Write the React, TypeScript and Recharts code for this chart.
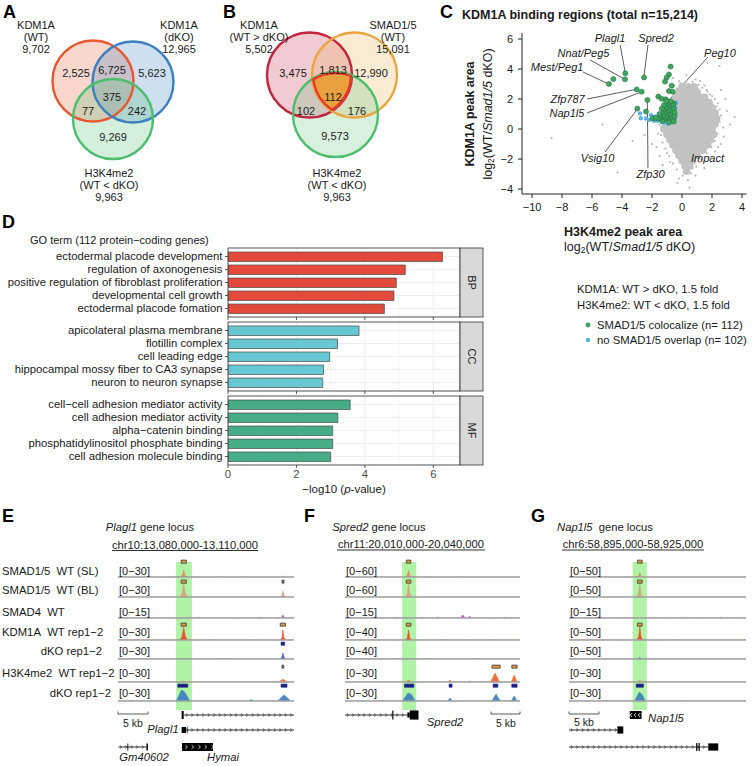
import React from 'react';
import {
  ScatterChart, Scatter, XAxis, YAxis, ReferenceLine, ReferenceArea,
  BarChart, Bar, CartesianGrid, AreaChart, Area, ComposedChart, Line,
} from 'recharts';

const FONT = '"Liberation Sans", Arial, Helvetica, sans-serif';
const M = '\u2212';
const M0 = { top: 0, right: 0, bottom: 0, left: 0 };
const INK = '#1a1a1a';

// ---------------- A / B : Venn data ----------------
const vennACounts = ['2,525', '6,725', '5,623', '375', '77', '242', '9,269'];
const vennASetNames = [['KDM1A', '(WT)'], ['KDM1A', '(dKO)'], ['H3K4me2', '(WT < dKO)']];
const vennASetSizes = ['9,702', '12,965', '9,963'];
const vennBCounts = ['3,475', '1,813', '12,990', '112', '102', '176', '9,573'];
const vennBSetNames = [['KDM1A', '(WT > dKO)'], ['SMAD1/5', '(WT)'], ['H3K4me2', '(WT < dKO)']];
const vennBSetSizes = ['5,502', '15,091', '9,963'];

// Venn layout (diagram geometry)
const VENN_A = {
  left: 0, width: 220,
  circles: [
    { x: 93, y: 81, r: 40.5, color: '#e8572f', op: 0.24 },
    { x: 133, y: 82, r: 40.5, color: '#3d7fc1', op: 0.25 },
    { x: 113, y: 119, r: 40, color: '#4cbe6d', op: 0.24 },
  ],
  countPos: [[76, 73], [112, 70], [152, 73], [112, 97], [88, 111], [137, 111], [113, 137]],
  labelPos: [[36, 25], [179, 25], [109, 173]],
};
const VENN_B = {
  left: 220, width: 200,
  circles: [
    { x: 309.5, y: 75, r: 42.5, color: '#c3243d', op: 0.24 },
    { x: 354.5, y: 75, r: 42.5, color: '#e9a53f', op: 0.22 },
    { x: 335.5, y: 114.5, r: 42.5, color: '#4cbe6d', op: 0.22 },
  ],
  countPos: [[293, 73], [333, 70], [371, 73], [333, 97], [306, 111], [357, 111], [335, 136]],
  labelPos: [[259, 25], [393, 25], [337, 173]],
};

// ---------------- C : scatter data ----------------
const cXTicks = [-10, -8, -6, -4, -2, 0, 2, 4];
const cYTicks = [-4, -2, 0, 2, 4, 6];
const grayCoreRows: [number, number[]][] = [
  [2.8, [0.0, 0.4, 0.8]],
  [2.45, [-0.2, 0.2, 0.6, 1.0]],
  [2.1, [-0.4, 0.0, 0.4, 0.8, 1.2, 1.5]],
  [1.75, [-0.6, -0.2, 0.2, 0.6, 1.0, 1.4, 1.8]],
  [1.4, [-0.4, 0.0, 0.4, 0.8, 1.2, 1.6, 2.0]],
  [1.05, [-0.6, -0.2, 0.2, 0.6, 1.0, 1.4, 1.8, 2.2]],
  [0.7, [-0.8, -0.4, 0.0, 0.4, 0.8, 1.2, 1.6, 2.0, 2.3]],
  [0.35, [-1.0, -0.6, -0.2, 0.2, 0.6, 1.0, 1.4, 1.8, 2.2]],
  [0.0, [-1.2, -0.8, -0.4, 0.0, 0.4, 0.8, 1.2, 1.6, 2.0]],
  [-0.35, [-1.0, -0.6, -0.2, 0.2, 0.6, 1.0, 1.4, 1.8, 2.1]],
  [-0.7, [-0.8, -0.4, 0.0, 0.4, 0.8, 1.2, 1.6, 1.9]],
  [-1.05, [-0.6, -0.2, 0.2, 0.6, 1.0, 1.4, 1.7]],
  [-1.4, [-0.4, 0.0, 0.4, 0.8, 1.2, 1.4]],
  [-1.75, [-0.2, 0.2, 0.6, 1.0]],
  [-2.1, [0.0, 0.4, 0.7]],
  [-2.45, [0.2, 0.5]],
  [-2.8, [0.3]],
];
const grayFringe: [number, number][] = [
  [-8.7, -0.6], [-5.3, 0.3], [-4.3, -2.9], [-0.3, -3.6], [0.5, -3.9], [1.7, 4.4], [2.5, 4.2],
  [3.0, 1.2], [2.8, -0.5], [2.6, 2.6], [-1.5, -1.8], [-1.3, -2.4], [0.9, -3.1], [1.5, -2.6],
  [2.2, -1.5], [-0.6, 3.4], [0.3, 3.6], [1.2, 3.2], [3.2, 0.3], [-2.0, -1.0], [1.9, -2.2],
  [-3.3, -0.8], [2.9, 2.0], [-1.6, -0.3], [-1.5, 0.3], [2.6, 0.9], [2.6, -1.0], [1.7, 2.5],
  [1.5, 2.9], [-0.5, 2.9], [0.9, 3.3], [-1.0, -1.6], [-0.8, -2.2], [0.3, -2.9], [1.2, -2.2],
  [2.4, 1.7], [-1.7, -1.2], [0.7, -2.6], [2.0, 2.2], [-0.2, 3.2], [3.5, 0.8], [-2.5, -0.4],
  [-1.35, 0.2], [-1.4, -0.4], [-1.3, -0.9], [-1.1, -1.3], [-0.85, -1.8], [-0.6, -2.3],
  [-0.35, -2.7], [0.05, -3.1], [0.6, -2.95], [0.95, -2.5], [1.3, -2.0], [1.65, -1.6],
  [1.95, -1.2], [2.2, -0.8], [2.35, -0.3], [2.5, 0.5], [2.5, 1.3], [2.3, 1.5], [2.2, 2.0],
  [1.85, 2.3], [1.65, 2.6], [1.35, 2.75], [1.1, 2.95], [0.7, 3.15], [0.3, 3.2], [-0.1, 3.05],
  [-0.35, 2.7], [2.75, 0.1], [2.4, -1.2], [1.8, -1.9], [-0.2, -3.3], [0.4, -3.4],
];
const bluePoints: [number, number][] = [
  [-2.8, 1.04], [-2.75, 0.72], [-2.4, 0.71], [-2.07, 0.93], [-1.91, 0.78], [-1.73, 0.82],
  [-1.53, 0.69], [-1.47, 1.0], [-0.76, 1.71], [-0.69, 1.49], [-0.62, 1.27], [-0.45, 1.4],
  [-0.45, 1.0], [-1.6, 0.55], [-1.85, 0.55], [-1.2, 0.45], [-0.4, 1.75], [-2.2, 0.6],
  [-0.95, 0.35], [-0.5, 0.7],
];
const greenPoints: [number, number][] = [
  [-4.87, 3.0], [-4.58, 3.33], [-3.8, 3.31], [-3.78, 3.71], [-2.53, 3.44], [-3.02, 2.64],
  [-2.69, 2.49], [-2.31, 1.93], [-2.98, 1.36], [-2.4, 1.16], [-1.96, 0.71],
  [-0.76, 4.16], [-0.87, 3.64], [-1.02, 3.44], [-1.13, 3.16], [-0.69, 2.89], [-0.87, 2.53],
  [-0.62, 2.49], [-1.58, 2.16], [-1.36, 2.02], [-1.09, 1.98], [-0.89, 1.82], [-0.55, 1.7],
  [-1.4, 0.75], [-1.3, 1.0], [-1.25, 0.6], [-1.2, 1.3], [-1.15, 0.85], [-1.1, 1.55],
  [-1.05, 0.65], [-1.0, 1.1], [-0.95, 0.8], [-0.95, 1.4], [-0.9, 1.7], [-0.9, 0.55],
  [-0.85, 1.2], [-0.8, 0.95], [-0.8, 0.65], [-0.75, 1.5], [-0.7, 1.25], [-0.7, 0.75],
  [-0.65, 1.0], [-0.6, 0.6], [-0.6, 1.6], [-0.55, 1.35], [-0.5, 0.85], [-0.5, 1.1],
  [-1.35, 1.35], [-1.2, 1.6], [-1.05, 1.85], [-0.75, 1.85], [-1.3, 0.5], [-0.85, 0.45],
  [-0.55, 0.5], [-1.5, 1.0], [-1.6, 0.7], [-1.75, 0.75],
];
const geneLabelsC: [string, number, number][] = [
  ['Plagl1', -4.8, 6.07], ['Spred2', -1.73, 6.07], ['Nnat/Peg5', -6.57, 5.1],
  ['Mest/Peg1', -8.33, 4.13], ['Peg10', 2.53, 5.1], ['Zfp787', -7.63, 2.0],
  ['Nap1l5', -7.67, 1.07], ['Vsig10', -5.63, -1.9], ['Zfp30', -2.1, -3.03], ['Impact', 1.7, -1.9],
];
const leaderLinesC: [number, number, number, number][] = [
  [-4.13, 5.6, -3.8, 3.85], [-2.27, 5.6, -2.53, 3.58], [-6.13, 4.6, -3.93, 3.38],
  [-6.6, 3.8, -5.0, 3.05], [1.73, 4.8, -0.8, 2.0], [-6.33, 2.0, -3.1, 2.64],
  [-6.33, 1.07, -2.75, 2.46], [-5.13, -1.53, -3.0, 1.3], [-2.27, -2.6, -2.31, 1.88],
  [1.0, -1.53, -0.93, 1.27],
];

// ---------------- D : GO data ----------------
const goBPTerms = ['ectodermal placode development', 'regulation of axonogenesis', 'positive regulation of fibroblast proliferation', 'developmental cell growth', 'ectodermal placode fomation'];
const goBPValues = [6.27, 5.18, 4.92, 4.85, 4.57];
const goCCTerms = ['apicolateral plasma membrane', 'flotillin complex', 'cell leading edge', 'hippocampal mossy fiber to CA3 synapse', 'neuron to neuron synapse'];
const goCCValues = [3.83, 3.2, 2.97, 2.79, 2.77];
const goMFTerms = [`cell${M}cell adhesion mediator activity`, 'cell adhesion mediator activity', `alpha${M}catenin binding`, 'phosphatidylinositol phosphate binding', 'cell adhesion molecule binding'];
const goMFValues = [3.57, 3.21, 3.06, 3.06, 3.0];
const goXTicks = [0, 2, 4, 6];

// ---------------- E/F/G : genome tracks (kb, signal) ----------------
const TRACK_NAMES = ['SMAD1/5\u00a0\u00a0WT (SL)', 'SMAD1/5\u00a0\u00a0WT (BL)', 'SMAD4\u00a0\u00a0WT', 'KDM1A\u00a0\u00a0WT rep1\u22122', 'dKO rep1\u22122', 'H3K4me2\u00a0\u00a0WT rep1\u22122', 'dKO rep1\u22122'];
const E_RANGES = [30, 30, 15, 30, 30, 30, 30];
const F_RANGES = [60, 60, 15, 40, 40, 30, 30];
const G_RANGES = [50, 50, 15, 50, 50, 30, 30];

const E_SL = [[0,0],[2.1,0],[2.2,1.2],[2.3,0],[6.4,0],[6.5,0.9],[6.6,0],[10.7,0],[11.0,5],[11.2,15.6],[11.4,5],[11.7,0],[17.5,0],[17.6,1.5],[17.7,0],[21.8,0],[21.9,1.1],[22,0],[27.9,0],[28.1,2.8],[28.3,0],[30,0]];
const E_BL = [[0,0],[4.5,0],[4.6,0.8],[4.7,0],[10.6,0],[10.95,9],[11.2,29],[11.45,9],[11.8,0],[15.3,0],[15.4,0.8],[15.5,0],[27.7,0],[27.95,4],[28.1,12.9],[28.3,4],[28.5,0],[30,0]];
const E_S4 = [[0,0],[1.5,0],[1.6,0.8],[1.7,0],[5.2,0],[5.3,1.0],[5.4,0],[9,0],[9.1,0.7],[9.2,0],[13.8,0],[13.9,1.2],[14,0],[19.5,0],[19.6,0.9],[19.7,0],[24,0],[24.1,1.1],[24.2,0],[27.8,0],[28.1,3.2],[28.4,0],[30,0]];
const E_KW = [[0,0],[3.3,0],[3.4,1.5],[3.5,0],[10.5,0],[10.9,7],[11.2,27.9],[11.5,7],[11.9,0],[16,0],[16.1,1.2],[16.2,0],[22.5,0],[22.6,1.3],[22.7,0],[27.7,0],[27.95,5],[28.1,21.4],[28.3,5],[28.6,0],[30,0]];
const E_KD = [[0,0],[3,0],[3.1,1],[3.2,0],[11.1,0],[11.2,1.8],[11.3,0],[18,0],[18.1,1],[18.2,0],[27.7,0],[27.95,4],[28.1,12.9],[28.3,4],[28.5,0],[30,0]];
const E_HW = [[0,0],[5,0],[5.1,1],[5.2,0],[10.8,0],[11.2,2],[11.6,0],[20,0],[20.1,1],[20.2,0],[27.4,0],[27.8,3.5],[28.1,5.8],[28.5,3],[28.9,0],[30,0]];
const E_HD = [[0,0],[2,0],[2.1,1.2],[2.2,0],[9.9,0],[10.3,9],[10.8,23.6],[11.3,20],[11.8,10],[12.2,0],[22.4,0],[22.7,3.5],[23,0],[27.2,0],[27.7,6],[28.3,12.9],[28.8,8],[29.4,0],[30,0]];

const F_SL = [[0,0],[3,0],[3.1,2],[3.2,0],[7.5,0],[7.6,1.5],[7.7,0],[10.45,0],[10.7,9],[10.9,28.7],[11.1,9],[11.35,0],[19.7,0],[19.8,2],[19.9,0],[26,0],[26.1,1.5],[26.2,0],[30,0]];
const F_BL = [[0,0],[7,0],[7.1,1.5],[7.2,0],[10.4,0],[10.7,16],[10.9,58],[11.1,16],[11.4,0],[16,0],[16.1,1.5],[16.2,0],[30,0]];
const F_S4 = [[0,0],[0.9,0],[1,1],[1.1,0],[3.4,0],[3.5,1.2],[3.6,0],[6,0],[6.1,0.9],[6.2,0],[8.5,0],[8.6,1.1],[8.7,0],[13,0],[13.1,1],[13.2,0],[15.8,0],[15.9,1.4],[16,0],[19.8,0],[20.2,3.2],[20.6,0],[21.2,0],[21.4,2.2],[21.6,0],[24.5,0],[24.6,1],[24.7,0],[27.3,0],[27.4,1.1],[27.5,0],[30,0]];
const F_KW = [[0,0],[4,0],[4.1,1.5],[4.2,0],[10.4,0],[10.7,7],[10.9,28.6],[11.1,7],[11.4,0],[16.5,0],[16.6,1.8],[16.7,0],[20.8,0],[20.9,2],[21,0],[25.3,0],[25.4,1.5],[25.5,0],[30,0]];
const F_KD = [[0,0],[2.5,0],[2.6,1],[2.7,0],[9,0],[9.1,0.9],[9.2,0],[14.5,0],[14.6,1],[14.7,0],[23,0],[23.1,1],[23.2,0],[30,0]];
const F_HW = [[0,0],[3.5,0],[3.6,1.2],[3.7,0],[10.5,0],[10.9,4.3],[11.3,0],[17.7,0],[18,4.3],[18.3,0],[21.2,0],[21.4,2.5],[21.6,0],[24.9,0],[25.3,8],[25.7,19.3],[26.1,10],[26.5,0],[28.5,0],[29,15],[29.5,0],[30,0]];
const F_HD = [[0,0],[2,0],[2.1,1],[2.2,0],[9.8,0],[10.3,8],[10.8,17.1],[11.4,14],[12,0],[17.6,0],[18,6.4],[18.4,0],[19.5,0],[19.6,1.5],[19.7,0],[25.2,0],[25.6,9],[25.9,15],[26.3,6],[26.7,0],[28.5,0],[29,10.7],[29.5,0],[30,0]];

const G_SL = [[0,0],[4,0],[4.1,1.2],[4.2,0],[11.6,0],[11.85,5],[12,16.8],[12.15,5],[12.4,0],[20,0],[20.1,1],[20.2,0],[30,0]];
const G_BL = [[0,0],[6,0],[6.1,1],[6.2,0],[11.55,0],[11.8,14],[12,49],[12.2,14],[12.45,0],[24,0],[24.1,1],[24.2,0],[30,0]];
const G_S4 = [[0,0],[0.5,0],[0.6,1],[0.7,0],[2.8,0],[2.9,1.1],[3,0],[5.5,0],[5.6,0.9],[5.7,0],[8.2,0],[8.3,1],[8.4,0],[13.7,0],[13.8,1],[13.9,0],[17,0],[17.1,0.9],[17.2,0],[19.5,0],[19.6,1.1],[19.7,0],[22.5,0],[22.6,1],[22.7,0],[25.6,0],[25.7,1.2],[25.8,0],[28.7,0],[28.8,1],[28.9,0],[30,0]];
const G_KW = [[0,0],[5,0],[5.1,1.5],[5.2,0],[11.5,0],[11.8,12],[12,47.5],[12.2,12],[12.5,0],[18,0],[18.1,1.5],[18.2,0],[30,0]];
const G_KD = [[0,0],[11.7,0],[12,5.4],[12.3,0],[30,0]];
const G_HW = [[0,0],[11.6,0],[12,3.2],[12.4,0],[30,0]];
const G_HD = [[0,0],[11.1,0],[11.5,9],[11.9,19.3],[12.4,14],[12.9,0],[20,0],[20.1,1],[20.2,0],[30,0]];

// peak calls (kb start, kb end, kind)
const E_CALLS = [[[10.75, 11.65, 'o']], [[10.75, 11.65, 'o'], [27.95, 28.3, 'g']], [], [[10.75, 11.65, 'o'], [27.65, 28.55, 'o']], [[27.8, 28.4, 'n']], [[27.95, 28.25, 'g']], [[10.2, 11.9, 'n'], [27.8, 28.8, 'n']]];
const F_CALLS = [[[10.5, 11.3, 'o']], [[10.5, 11.3, 'o']], [], [[10.5, 11.3, 'o']], [], [[25.2, 26.6, 'o'], [28.6, 29.5, 'o']], [[10.2, 11.8, 'n'], [17.85, 18.35, 'n'], [25.4, 26.2, 'n'], [28.6, 29.5, 'n']]];
const G_CALLS = [[[11.6, 12.4, 'o']], [[11.6, 12.4, 'o']], [], [[11.6, 12.4, 'o']], [], [], [[11.4, 12.6, 'n']]];

// gene models (kb)
const E_GENES = [
  { y: 715, introns: [[11.2, 30]], exons: [[10.85, 11.2, 1.0, '#000']] },
  { y: 730, introns: [[11.6, 30]], exons: [[10.85, 11.6, 0.75, '#000'], [11.85, 11.95, 0.9, '#000']] },
  { y: 747, introns: [[0.1, 4.9]], exons: [[1.6, 1.75, 0.9, '#000'], [4.85, 5.1, 0.9, '#000'], [10.9, 16.2, 1.0, 'url(#chevW)']] },
];
const F_GENES = [
  { y: 715, introns: [[0, 10.7]], exons: [[8.1, 8.3, 1.1, '#000'], [10.7, 11.1, 0.65, '#000'], [11.1, 12.6, 1.15, '#000']] },
];
const G_GENES = [
  { y: 715, introns: [], exons: [[10.3, 12.3, 1.0, 'url(#chevWL)']] },
  { y: 730, introns: [[0, 8.2]], exons: [[8.2, 9.2, 0.9, '#000']] },
  { y: 747, introns: [[0, 23.6]], exons: [[21.55, 21.75, 1.0, '#000'], [21.95, 22.15, 1.0, '#000'], [23.6, 25.3, 0.9, '#000']] },
];

// ---------------- styling / layout ----------------
const TRACK_COLORS = ['#e28d55', '#d9a17a', '#a650c9', '#f04d22', '#3d52c4', '#f26a32', '#3f82bf'];
const CALL_FILL: any = { o: '#dc9a48', n: '#1d1f86', g: '#8c8c8c' };
const TRACK_BASE = [577, 597, 618, 640, 659, 682, 701];
const TRACK_LABEL_Y = [571, 590, 612, 632, 651, 673, 693];
const FRAME = [{ k: 0, v: 0 }, { k: 30, v: 0 }];

const fmt = (v: number) => (v < 0 ? M + Math.abs(v) : String(v));

function Venn({ cfg, counts }: any) {
  const { left, width, circles, countPos } = cfg;
  const countData = counts.map((t: string, i: number) => ({ x: countPos[i][0], y: countPos[i][1], t }));
  return (
    <div style={{ position: 'absolute', left, top: 0 }}>
      <ScatterChart width={width} height={210} margin={M0}>
        <XAxis type="number" dataKey="x" domain={[left, left + width]} hide />
        <YAxis type="number" dataKey="y" domain={[0, 210]} reversed hide />
        <Scatter data={circles} isAnimationActive={false}
          shape={(p: any) => <circle cx={p.cx} cy={p.cy} r={p.payload.r} fill={p.payload.color} fillOpacity={p.payload.op} />} />
        <Scatter data={circles} isAnimationActive={false}
          shape={(p: any) => <circle cx={p.cx} cy={p.cy} r={p.payload.r} fill="none" stroke={p.payload.color} strokeWidth={2.4} />} />
        {cfg.triple && (
          <Scatter data={[circles[2]]} isAnimationActive={false}
            shape={(p: any) => {
              const dx = p.cx - p.payload.x;
              const dy = p.cy - p.payload.y;
              const ids = circles.map((_: any, i: number) => `vclip${left}_${i}`);
              return (
                <g>
                  <defs>
                    {circles.map((s: any, i: number) => (
                      <clipPath id={ids[i]} key={i}><circle cx={s.x + dx} cy={s.y + dy} r={s.r} /></clipPath>
                    ))}
                  </defs>
                  <g clipPath={`url(#${ids[0]})`}><g clipPath={`url(#${ids[1]})`}><g clipPath={`url(#${ids[2]})`}>
                    <circle cx={p.cx} cy={p.cy} r={p.payload.r + 4} fill="#e9a13e" />
                    {circles.map((s: any, i: number) => (
                      <circle key={i} cx={s.x + dx} cy={s.y + dy} r={s.r} fill="none" stroke="#e8312b" strokeWidth={4.4} />
                    ))}
                  </g></g></g>
                </g>
              );
            }} />
        )}
        <Scatter data={countData} isAnimationActive={false}
          shape={(p: any) => <text x={p.cx} y={p.cy} textAnchor="middle" dominantBaseline="central" fontSize={11} fill={INK}>{p.payload.t}</text>} />
      </ScatterChart>
    </div>
  );
}

function ScatterC() {
  const core = grayCoreRows.flatMap(([y, xs]) => xs.map((x) => ({ x, y })));
  const fringe = grayFringe.map(([x, y]) => ({ x, y }));
  const blue = bluePoints.map(([x, y]) => ({ x, y }));
  const green = greenPoints.map(([x, y]) => ({ x, y }));
  const labels = geneLabelsC.map(([name, x, y]) => ({ name, x, y }));
  const axisTick = { fontSize: 11, fill: INK };
  return (
    <div style={{ position: 'absolute', left: 490, top: 0 }}>
      <ScatterChart width={264} height={224} margin={{ top: 33, right: 7.5, bottom: 0, left: 2 }}>
        <XAxis type="number" dataKey="x" domain={[-10.67, 4.3]} ticks={cXTicks} allowDataOverflow height={30}
          tickSize={4} tickMargin={5} tickFormatter={fmt} stroke="#222" tick={axisTick} interval={0} />
        <YAxis type="number" dataKey="y" domain={[-4.33, 6.4]} ticks={cYTicks} allowDataOverflow width={30}
          tickSize={4} tickMargin={5} tickFormatter={fmt} stroke="#222" tick={axisTick} interval={0} />
        <Scatter data={core} isAnimationActive={false} shape={(p: any) => <circle cx={p.cx} cy={p.cy} r={3.9} fill="#c2c2c2" />} />
        <Scatter data={fringe} isAnimationActive={false} shape={(p: any) => <circle cx={p.cx} cy={p.cy} r={1.1} fill="#b8b8b8" />} />
        <Scatter data={blue} isAnimationActive={false} shape={(p: any) => <circle cx={p.cx} cy={p.cy} r={2.2} fill="#56b4e9" />} />
        <Scatter data={green} isAnimationActive={false} shape={(p: any) => <circle cx={p.cx} cy={p.cy} r={2.5} fill="#3fa562" stroke="#24713d" strokeWidth={0.6} />} />
        {leaderLinesC.map((s, i) => (
          <ReferenceLine key={i} segment={[{ x: s[0], y: s[1] }, { x: s[2], y: s[3] }]} stroke="#333" strokeWidth={0.8} ifOverflow="visible" />
        ))}
        <Scatter data={labels} isAnimationActive={false}
          shape={(p: any) => <text x={p.cx} y={p.cy} textAnchor="middle" dominantBaseline="central" fontSize={11} fontStyle="italic" fill={INK}>{p.payload.name}</text>} />
      </ScatterChart>
    </div>
  );
}

function GoPanel({ terms, values, fill, top, last }: any) {
  const data = terms.map((term: string, i: number) => ({ term, v: values[i] }));
  const xh = last ? 22 : 4;
  return (
    <div style={{ position: 'absolute', left: 0, top }}>
      <BarChart layout="vertical" width={460} height={69 + xh} data={data} margin={M0}>
        <CartesianGrid horizontal={false} verticalValues={[1, 3, 5]} stroke="#f1f1f1" strokeWidth={0.6} />
        <CartesianGrid stroke="#e3e3e3" strokeWidth={0.6} />
        <XAxis type="number" domain={[0, 6.78]} ticks={goXTicks} allowDataOverflow height={xh} tickSize={3} tickMargin={2}
          axisLine={false} tickLine={{ stroke: '#333', strokeWidth: 0.8 }} tick={{ fontSize: 11.3, fill: '#4d4d4d' }}
          tickFormatter={last ? undefined : () => ''} interval={0} />
        <YAxis type="category" dataKey="term" width={228} interval={0} tickSize={3} tickMargin={2.5} axisLine={false}
          tickLine={{ stroke: '#333', strokeWidth: 0.8 }} padding={{ top: 2, bottom: 2 }}
          tick={(p: any) => <text x={p.x} y={p.y} dy="0.35em" textAnchor="end" fontSize={11.3} fill={INK}>{p.payload.value}</text>} />
        <Bar dataKey="v" fill={fill} stroke="#4a4a4a" strokeWidth={0.7} barSize={9.5} isAnimationActive={false} />
      </BarChart>
    </div>
  );
}

function Track({ left, top, width, data, range, color, calls }: any) {
  const chartData = data.map(([k, v]: number[]) => ({ k, v }));
  return (
    <div style={{ position: 'absolute', left, top }}>
      <AreaChart width={width} height={20} data={chartData} margin={{ top: 0, right: 0, bottom: 1, left: 0 }}>
        <XAxis type="number" dataKey="k" domain={[0, 30]} hide allowDataOverflow />
        <YAxis type="number" domain={[0, range * 1.35]} hide allowDataOverflow />
        <Area type="linear" dataKey="v" stroke={color} strokeWidth={0.5} fill={color} fillOpacity={0.95}
          dot={false} activeDot={false} isAnimationActive={false} />
        <ReferenceLine y={0} stroke="#a0a0a0" strokeWidth={1.6} ifOverflow="visible" />
        {calls.map((c: any, i: number) => (
          <ReferenceArea key={i} x1={c[0]} x2={c[1]} y1={range * 0.98} y2={range * 1.2} fill={CALL_FILL[c[2]]}
            fillOpacity={1} stroke={c[2] === 'n' ? '#1d1f86' : '#2a2a2a'} strokeWidth={0.7} ifOverflow="visible" />
        ))}
      </AreaChart>
    </div>
  );
}

function GeneRow({ left, width, gene }: any) {
  return (
    <div style={{ position: 'absolute', left, top: gene.y - 6 }}>
      <ComposedChart width={width} height={12} data={FRAME} margin={M0}>
        <XAxis type="number" dataKey="k" domain={[0, 30]} hide allowDataOverflow />
        <YAxis type="number" domain={[-1.5, 1.5]} hide allowDataOverflow />
        <Line dataKey="v" stroke="none" dot={false} activeDot={false} isAnimationActive={false} />
        {gene.introns.map((t: number[], i: number) => (
          <ReferenceArea key={'i' + i} x1={t[0]} x2={t[1]} y1={-0.6} y2={0.6} fill="url(#chev)" fillOpacity={1} stroke="none" ifOverflow="visible" />
        ))}
        {gene.exons.map((e: any, i: number) => (
          <ReferenceArea key={'e' + i} x1={e[0]} x2={e[1]} y1={-e[2]} y2={e[2]} fill={e[3]} fillOpacity={1} stroke="none" ifOverflow="visible" />
        ))}
      </ComposedChart>
    </div>
  );
}

function GenomePanel({ left, width, tracks, ranges, calls, highlight, genes }: any) {
  return (
    <>
      <div style={{ position: 'absolute', left, top: 562 }}>
        <ComposedChart width={width} height={148} data={FRAME} margin={M0}>
          <XAxis type="number" dataKey="k" domain={[0, 30]} hide allowDataOverflow />
          <YAxis type="number" domain={[0, 1]} hide allowDataOverflow />
          <Line dataKey="v" stroke="none" dot={false} activeDot={false} isAnimationActive={false} />
          <ReferenceArea x1={highlight[0]} x2={highlight[1]} y1={0} y2={1} fill="#b0f3a6" fillOpacity={1} stroke="none" ifOverflow="visible" />
        </ComposedChart>
      </div>
      {tracks.map((d: any, i: number) => (
        <Track key={i} left={left} top={TRACK_BASE[i] - 19} width={width} data={d} range={ranges[i]} color={TRACK_COLORS[i]} calls={calls[i]} />
      ))}
      {genes.map((g: any, i: number) => <GeneRow key={i} left={left} width={width} gene={g} />)}
    </>
  );
}

function Log2Label({ x, y, rotate, anchor }: any) {
  const tr = rotate ? `translate(${x},${y}) rotate(-90)` : `translate(${x},${y})`;
  return (
    <text transform={tr} textAnchor={anchor} dominantBaseline="central" fontSize={12.5} fill={INK}>
      log<tspan fontSize={8.5} dy={3}>2</tspan><tspan dy={-3}>(WT/</tspan><tspan fontStyle="italic">Smad1/5</tspan> dKO)
    </text>
  );
}

function Overlay() {
  const c = { textAnchor: 'middle' as const, dominantBaseline: 'central' as const };
  const vennText = (cfg: any, names: string[][], sizes: string[]) =>
    cfg.labelPos.map((pos: number[], i: number) => (
      <g key={i}>
        <text x={pos[0]} y={pos[1]} {...c} fontSize={11} fill={INK}>{names[i][0]}</text>
        <text x={pos[0]} y={pos[1] + 12} {...c} fontSize={11} fill={INK}>{names[i][1]}</text>
        <text x={pos[0]} y={pos[1] + 24} {...c} fontSize={11} fill={INK}>{sizes[i]}</text>
      </g>
    ));
  const panelX = [118, 345, 569];
  const rangeSets = [E_RANGES, F_RANGES, G_RANGES];
  return (
    <svg width={754} height={766} style={{ position: 'absolute', left: 0, top: 0, pointerEvents: 'none' }} fontFamily={FONT}>
      {[['A', 3, 18], ['B', 223, 18], ['C', 440, 18], ['D', 2, 228], ['E', 2, 522], ['F', 304, 522], ['G', 531, 522]].map((l: any) => (
        <text key={l[0]} x={l[1]} y={l[2]} fontSize={18} fontWeight="bold" fill="#000">{l[0]}</text>
      ))}
      {vennText(VENN_A, vennASetNames, vennASetSizes)}
      {vennText(VENN_B, vennBSetNames, vennBSetSizes)}

      <text x={462} y={15} dominantBaseline="central" fontSize={12.5} fontWeight="bold" fill={INK}>KDM1A binding regions (total n=15,214)</text>
      <text transform="translate(470,114) rotate(-90)" {...c} fontSize={12.5} fontWeight="bold" fill={INK}>KDM1A peak area</text>
      <Log2Label x={488} y={114} rotate anchor="middle" />
      <text x={564} y={232} dominantBaseline="central" fontSize={12.5} fontWeight="bold" fill={INK}>H3K4me2 peak area</text>
      <Log2Label x={564} y={247} anchor="start" />
      <text x={577} y={289} dominantBaseline="central" fontSize={11.3} fill={INK}>KDM1A: WT &gt; dKO, 1.5 fold</text>
      <text x={577} y={305} dominantBaseline="central" fontSize={11.3} fill={INK}>H3K4me2: WT &lt; dKO, 1.5 fold</text>
      <circle cx={588} cy={325} r={2.4} fill="#3fa562" />
      <text x={597} y={325} dominantBaseline="central" fontSize={11.3} fill={INK}>SMAD1/5 colocalize (n= 112)</text>
      <circle cx={588} cy={340} r={2.2} fill="#56b4e9" />
      <text x={597} y={340} dominantBaseline="central" fontSize={11.3} fill={INK}>no SMAD1/5 overlap (n= 102)</text>

      <text x={30} y={240} dominantBaseline="central" fontSize={11} fill={INK}>GO term (112 protein{M}coding genes)</text>
      {[248, 322, 396].map((t, i) => (
        <g key={i}>
          <rect x={228} y={t} width={232} height={69} fill="none" stroke="#333" strokeWidth={0.8} />
          <rect x={460} y={t} width={23} height={69} fill="#d9d9d9" stroke="#333" strokeWidth={0.8} />
          <text transform={`translate(471.5,${t + 34.5}) rotate(90)`} {...c} fontSize={11} fill={INK}>{['BP', 'CC', 'MF'][i]}</text>
        </g>
      ))}
      <text x={344} y={489} {...c} fontSize={11.5} fill={INK}>{M}log10 (<tspan fontStyle="italic">p</tspan>-value)</text>

      <text x={150} y={527} {...c} fontSize={11.2} fill={INK}><tspan fontStyle="italic">Plagl1</tspan> gene locus</text>
      <text x={185} y={545} {...c} fontSize={11.2} fill={INK}>chr10:13,080,000-13,110,000</text>
      <line x1={112} x2={258} y1={550.5} y2={550.5} stroke={INK} strokeWidth={0.9} />
      <text x={379} y={527} {...c} fontSize={11.2} fill={INK}><tspan fontStyle="italic">Spred2</tspan> gene locus</text>
      <text x={411} y={544} {...c} fontSize={11.2} fill={INK}>chr11:20,010,000-20,040,000</text>
      <line x1={337} x2={485} y1={550} y2={550} stroke={INK} strokeWidth={0.9} />
      <text x={605} y={527} {...c} fontSize={11.2} fill={INK}><tspan fontStyle="italic">Nap1l5</tspan>{'\u00a0\u00a0'}gene locus</text>
      <text x={633} y={544} {...c} fontSize={11.2} fill={INK}>chr6:58,895,000-58,925,000</text>
      <line x1={562} x2={704} y1={550} y2={550} stroke={INK} strokeWidth={0.9} />

      {TRACK_NAMES.map((n, i) => {
        const end = i === 4 ? 102 : i === 6 ? 111 : null;
        return (
          <text key={i} x={end ?? 2} y={TRACK_LABEL_Y[i]} textAnchor={end ? 'end' : 'start'} dominantBaseline="central" fontSize={11.3} fill={INK}>{n}</text>
        );
      })}
      {panelX.map((px, p) => rangeSets[p].map((r, i) => (
        <text key={p + '-' + i} x={px + 1} y={TRACK_LABEL_Y[i]} dominantBaseline="central" fontSize={11} fill={INK}>[0{M}{r}]</text>
      )))}

      {[[118, 148, 133, 723], [491, 520, 506, 723], [569, 599, 584, 722]].map((s, i) => (
        <g key={i}>
          <line x1={s[0]} x2={s[1]} y1={714} y2={714} stroke="#333" strokeWidth={0.8} />
          <line x1={s[0]} x2={s[0]} y1={711.5} y2={714} stroke="#333" strokeWidth={0.8} />
          <line x1={s[1]} x2={s[1]} y1={711.5} y2={714} stroke="#333" strokeWidth={0.8} />
          <text x={s[2]} y={s[3]} {...c} fontSize={10.5} fill={INK}>5 kb</text>
        </g>
      ))}
      <text x={163} y={729} {...c} fontSize={11.3} fontStyle="italic" fill={INK}>Plagl1</text>
      <text x={144} y={757} {...c} fontSize={11.3} fontStyle="italic" fill={INK}>Gm40602</text>
      <text x={223} y={757} {...c} fontSize={11.3} fontStyle="italic" fill={INK}>Hymai</text>
      <text x={445} y={722} {...c} fontSize={11.3} fontStyle="italic" fill={INK}>Spred2</text>
      <text x={648} y={718} dominantBaseline="central" fontSize={11.3} fontStyle="italic" fill={INK}>Nap1l5</text>
    </svg>
  );
}

function Defs() {
  return (
    <svg width={0} height={0} style={{ position: 'absolute' }}>
      <defs>
        <pattern id="chev" patternUnits="userSpaceOnUse" width={5.5} height={12}>
          <line x1={0} y1={6} x2={5.5} y2={6} stroke="#222" strokeWidth={0.9} />
          <polyline points="1.8,4.4 3.4,6 1.8,7.6" fill="none" stroke="#222" strokeWidth={0.8} />
        </pattern>
        <pattern id="chevW" patternUnits="userSpaceOnUse" width={6.5} height={12}>
          <rect width={6.5} height={12} fill="#000" />
          <polyline points="2.4,4.2 4.2,6 2.4,7.8" fill="none" stroke="#fff" strokeWidth={0.9} />
        </pattern>
        <pattern id="chevWL" patternUnits="userSpaceOnUse" width={4} height={12}>
          <rect width={4} height={12} fill="#000" />
          <polyline points="3,4.2 1.2,6 3,7.8" fill="none" stroke="#fff" strokeWidth={0.9} />
        </pattern>
      </defs>
    </svg>
  );
}

export default function App() {
  return (
    <div style={{ position: 'absolute', left: 0, top: 0, width: 754, height: 766, background: '#fff', fontFamily: FONT, overflow: 'hidden' }}>
      <Defs />
      <Venn cfg={VENN_A} counts={vennACounts} />
      <Venn cfg={{ ...VENN_B, triple: true }} counts={vennBCounts} />
      <ScatterC />
      <GoPanel terms={goBPTerms} values={goBPValues} fill="#e34a3b" top={248} />
      <GoPanel terms={goCCTerms} values={goCCValues} fill="#67c7d3" top={322} />
      <GoPanel terms={goMFTerms} values={goMFValues} fill="#46ad86" top={396} last />
      <GenomePanel left={118} width={176} tracks={[E_SL, E_BL, E_S4, E_KW, E_KD, E_HW, E_HD]} ranges={E_RANGES} calls={E_CALLS} highlight={[9.9, 12.6]} genes={E_GENES} />
      <GenomePanel left={345} width={175} tracks={[F_SL, F_BL, F_S4, F_KW, F_KD, F_HW, F_HD]} ranges={F_RANGES} calls={F_CALLS} highlight={[9.8, 12.2]} genes={F_GENES} />
      <GenomePanel left={569} width={177} tracks={[G_SL, G_BL, G_S4, G_KW, G_KD, G_HW, G_HD]} ranges={G_RANGES} calls={G_CALLS} highlight={[10.8, 13.2]} genes={G_GENES} />
      <Overlay />
    </div>
  );
}
